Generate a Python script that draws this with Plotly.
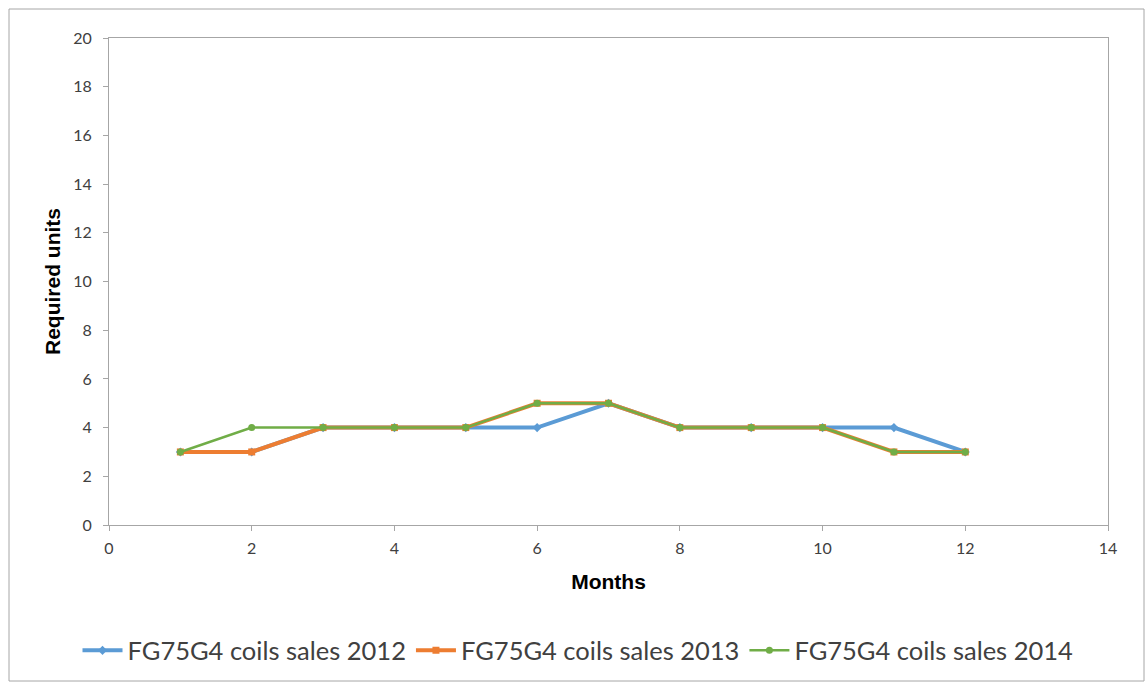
import plotly.graph_objects as go

months = [1, 2, 3, 4, 5, 6, 7, 8, 9, 10, 11, 12]
sales_2012 = [3, 3, 4, 4, 4, 4, 5, 4, 4, 4, 4, 3]
sales_2013 = [3, 3, 4, 4, 4, 5, 5, 4, 4, 4, 3, 3]
sales_2014 = [3, 4, 4, 4, 4, 5, 5, 4, 4, 4, 3, 3]

x_ticks = [0, 2, 4, 6, 8, 10, 12, 14]
y_ticks = [0, 2, 4, 6, 8, 10, 12, 14, 16, 18, 20]

W, H = 1148, 686
L, R, T, B = 109, 40, 38, 161

fig = go.Figure()
fig.add_trace(go.Scatter(
    x=months, y=sales_2012, mode="lines+markers", name="FG75G4 coils sales 2012",
    line=dict(color="#5B9BD5", width=4),
    marker=dict(symbol="diamond", size=7, color="#5B9BD5"),
))
fig.add_trace(go.Scatter(
    x=months, y=sales_2013, mode="lines+markers", name="FG75G4 coils sales 2013",
    line=dict(color="#ED7D31", width=4),
    marker=dict(symbol="square", size=7, color="#ED7D31"),
))
fig.add_trace(go.Scatter(
    x=months, y=sales_2014, mode="lines+markers", name="FG75G4 coils sales 2014",
    line=dict(color="#70AD47", width=2.5),
    marker=dict(symbol="circle", size=7, color="#70AD47"),
))

pw = W - L - R
ph = H - T - B
# outer chart border
fig.add_shape(
    type="rect", xref="paper", yref="paper",
    x0=(9 - L) / pw, x1=(1144 - L) / pw,
    y0=-(681 - T - ph) / ph, y1=1 + (T - 9) / ph,
    line=dict(color="#a6a6a6", width=1), fillcolor="rgba(0,0,0,0)",
)

body_font = "Lato, Carlito, Calibri, sans-serif"
tick_font = dict(family=body_font, size=16, color="#404040")
title_font = dict(family="Liberation Sans, Arial", size=21, color="black", weight="bold")
axis_common = dict(
    showgrid=False, zeroline=False, showline=True, linecolor="#a6a6a6", linewidth=1,
    mirror=True, ticks="outside", ticklen=5, tickcolor="#a6a6a6", tickfont=tick_font,
)

fig.update_layout(
    width=W, height=H,
    margin=dict(l=L, r=R, t=T, b=B),
    paper_bgcolor="white", plot_bgcolor="white",
    xaxis=dict(range=[0, 14], tickvals=x_ticks, ticktext=[str(v) for v in x_ticks],
               ticklabelstandoff=4,
               title=dict(text="Months", font=title_font, standoff=18),
               **axis_common),
    yaxis=dict(range=[0, 20], tickvals=y_ticks, ticktext=[str(v) for v in y_ticks],
               ticklabelstandoff=8,
               title=dict(text="Required units", font=title_font, standoff=6),
               **axis_common),
    legend=dict(orientation="h", x=(578 - L) / pw, xanchor="center", y=-0.21, yanchor="top",
                font=dict(family=body_font, size=25.5, color="#404040"),
                itemwidth=40),
    showlegend=True,
)

fig.write_html("out.html")
